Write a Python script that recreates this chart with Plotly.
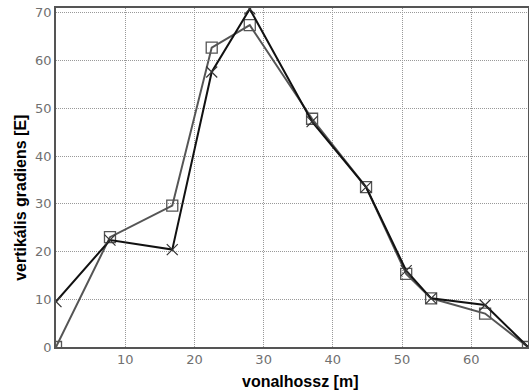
import plotly.graph_objects as go

x_sq = [0, 7.8, 16.8, 22.5, 28.0, 37.0, 44.8, 50.6, 54.2, 62.0, 68.2]
y_sq = [0, 23.0, 29.6, 62.7, 67.4, 47.8, 33.5, 15.3, 10.2, 7.0, 0]

x_cr = [0, 7.8, 16.8, 22.5, 28.0, 37.0, 44.8, 50.6, 54.2, 62.0, 68.2]
y_cr = [9.5, 22.4, 20.4, 57.6, 70.8, 47.2, 33.5, 16.0, 10.2, 8.8, 0]

x_ticks = [10, 20, 30, 40, 50, 60]
y_ticks = [0, 10, 20, 30, 40, 50, 60, 70]

x_title = "vonalhossz [m]"
y_title = "vertikális gradiens [E]"

fig = go.Figure()
fig.add_trace(go.Scatter(
    x=x_sq, y=y_sq, mode="lines+markers",
    line=dict(color="#555555", width=2),
    marker=dict(symbol="square-open", size=11, color="#555555", line=dict(width=1.3)),
    showlegend=False))
fig.add_trace(go.Scatter(
    x=x_cr, y=y_cr, mode="lines+markers",
    line=dict(color="#111111", width=2),
    marker=dict(symbol="x-thin-open", size=11, color="#333333", line=dict(width=1.2, color="#333333")),
    showlegend=False))

axis_common = dict(
    showgrid=True, gridcolor="#999999", griddash="1px,1px", gridwidth=1,
    showline=True, linecolor="#555555", linewidth=1.5, mirror=True,
    ticks="", zeroline=False, automargin=False, ticklabeloverflow="allow",
    tickfont=dict(family="DejaVu Sans", size=13, color="#707070"),
)
fig.update_xaxes(range=[0, 68.2], tickvals=x_ticks, **axis_common)
fig.update_yaxes(range=[0, 71], tickvals=y_ticks, **axis_common)

title_font = dict(family="Liberation Sans", size=16, color="#000000", weight="bold")
fig.add_annotation(text=x_title, xref="paper", yref="paper", x=0.516, y=0,
                   xanchor="center", yanchor="middle", yshift=-34,
                   showarrow=False, font=title_font)
fig.add_annotation(text=y_title, xref="paper", yref="paper", x=0, y=0.44,
                   xanchor="center", yanchor="middle", xshift=-35, textangle=-90,
                   showarrow=False, font=title_font)

fig.update_layout(
    width=529, height=391,
    margin=dict(l=56, r=1, t=8, b=44),
    paper_bgcolor="white", plot_bgcolor="white",
)
fig.write_html("out.html", config={"displayModeBar": False},
               post_script="document.body.style.margin='0';")
